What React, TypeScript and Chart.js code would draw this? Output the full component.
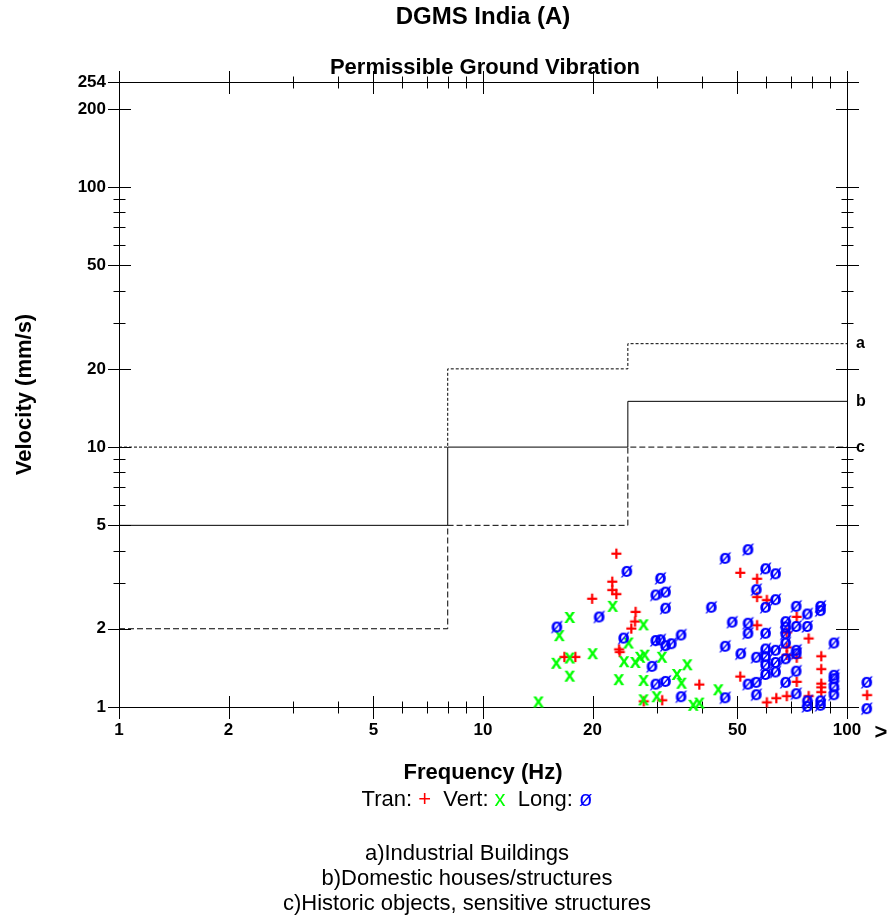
import { useEffect, useRef } from 'react';
import { Chart, registerables } from 'chart.js';
Chart.register(...registerables);

const FONT = "'Liberation Sans', Arial, Helvetica, sans-serif";

// Axis ticks
const xTicks = [1, 2, 5, 10, 20, 50, 100];
const xMinorTicks = [3, 4, 6, 7, 8, 9, 30, 40, 60, 70, 80, 90];
const yTicks = [1, 2, 5, 10, 20, 50, 100, 200, 254];
const yMinorTicks = [3, 4, 6, 7, 8, 9, 30, 40, 60, 70, 80, 90];

// DGMS limit curves (frequency breakpoints, velocity mm/s)
const limitFreq = [1, 8, 25, 100];
const industrialLimit = [10, 20, 25, 25];
const domesticLimit = [5, 10, 15, 15];
const historicLimit = [2, 5, 10, 10];

// Tran (+)
const tranFreq = [23.2, 22.6, 22.6, 23.2, 19.9, 26.2, 26.1, 25.5, 23.6, 23.7, 16.7, 17.9, 27.6, 31.0, 39.2, 50.8, 56.5, 56.5, 60.1, 56.5, 50.8, 60.1, 63.8, 68.2, 72.6, 68.2, 68.2, 68.2, 72.6, 78.3, 72.6, 78.3, 84.8, 84.8, 84.8, 84.8, 84.8, 113.3];
const tranVel = [3.92, 3.06, 2.84, 2.74, 2.63, 2.34, 2.15, 2.02, 1.68, 1.64, 1.57, 1.57, 1.06, 1.07, 1.23, 3.31, 3.14, 2.67, 2.60, 2.08, 1.32, 1.05, 1.09, 1.11, 2.24, 1.95, 1.71, 1.60, 1.56, 1.85, 1.26, 1.11, 1.58, 1.41, 1.24, 1.20, 1.15, 1.12];

// Vert (x)
const vertFreq = [14.2, 15.9, 16.2, 17.3, 17.3, 17.3, 20.0, 22.7, 23.6, 24.4, 25.1, 26.2, 27.0, 27.6, 27.8, 27.6, 27.6, 30.0, 31.0, 34.1, 35.1, 36.4, 37.8, 39.3, 44.3];
const vertVel = [1.05, 1.48, 1.89, 2.22, 1.55, 1.32, 1.61, 2.45, 1.28, 1.50, 1.77, 1.49, 1.56, 2.08, 1.59, 1.27, 1.07, 1.10, 1.56, 1.34, 1.24, 1.46, 1.02, 1.04, 1.17];

// Long (ø)
const longFreq = [16.0, 20.9, 24.9, 24.4, 30.8, 29.9, 31.8, 31.8, 29.9, 30.8, 31.8, 33.0, 35.1, 29.2, 29.9, 31.8, 35.1, 42.5, 46.4, 53.6, 48.5, 46.4, 51.2, 46.4, 53.6, 53.6, 53.6, 56.5, 56.5, 56.5, 56.5, 59.9, 63.8, 59.9, 63.8, 59.9, 59.9, 63.8, 59.9, 59.9, 59.9, 63.8, 63.8, 68.0, 68.0, 68.0, 68.0, 68.0, 68.0, 72.7, 72.7, 72.7, 72.7, 72.7, 72.7, 78.0, 78.0, 78.0, 78.0, 84.8, 84.8, 84.8, 84.8, 92.3, 92.3, 92.3, 92.3, 92.3, 113.6, 113.6];
const longVel = [2.04, 2.23, 3.34, 1.85, 3.14, 2.71, 2.78, 2.41, 1.81, 1.82, 1.73, 1.76, 1.90, 1.44, 1.23, 1.26, 1.10, 2.43, 3.75, 4.05, 2.13, 1.72, 1.61, 1.09, 2.11, 1.93, 1.23, 2.84, 1.56, 1.25, 1.12, 3.42, 3.27, 2.43, 2.60, 1.93, 1.68, 1.66, 1.57, 1.46, 1.34, 1.49, 1.37, 2.14, 2.04, 1.92, 1.77, 1.54, 1.25, 2.45, 2.05, 1.66, 1.61, 1.38, 1.13, 2.29, 2.05, 1.06, 1.01, 2.45, 2.36, 1.06, 1.02, 1.77, 1.33, 1.29, 1.20, 1.12, 1.25, 0.99];

const noteLines = ['a)Industrial Buildings', 'b)Domestic houses/structures', 'c)Historic objects, sensitive structures'];

const RED = '#ff0000';
const GREEN = '#00ff00';
const BLUE = '#0000ff';

function glyph(ch: string, color: string) {
  const size = 26;
  const c = document.createElement('canvas');
  c.width = size;
  c.height = size;
  const g = c.getContext('2d')!;
  g.font = `bold 20px ${FONT}`;
  g.fillStyle = color;
  g.textAlign = 'left';
  g.textBaseline = 'alphabetic';
  const m = g.measureText(ch);
  const w = m.actualBoundingBoxLeft + m.actualBoundingBoxRight;
  const h = m.actualBoundingBoxAscent + m.actualBoundingBoxDescent;
  const x = (size - w) / 2 + m.actualBoundingBoxLeft;
  const y = (size - h) / 2 + m.actualBoundingBoxAscent;
  g.fillText(ch, x, y);
  return c;
}

function pts(xs: number[], ys: number[]) {
  return xs.map((x, i) => ({ x, y: ys[i] }));
}

const decorPlugin = {
  id: 'decor',
  beforeDatasetsDraw(chart: any) {
    const { ctx, chartArea: a } = chart;
    const xs = chart.scales.x;
    const ys = chart.scales.y;
    const L = Math.round(a.left) + 0.5;
    const R = Math.round(a.right) + 0.5;
    const T = Math.round(a.top) + 0.5;
    const B = Math.round(a.bottom) + 0.5;
    ctx.save();
    ctx.strokeStyle = '#000';
    ctx.lineWidth = 1;
    ctx.beginPath();
    ctx.rect(L, T, R - L, B - T);
    const xt = (v: number, len: number) => {
      const x = Math.round(xs.getPixelForValue(v)) + 0.5;
      ctx.moveTo(x, B - len); ctx.lineTo(x, B + len);
      ctx.moveTo(x, T - len); ctx.lineTo(x, T + len);
    };
    const yt = (v: number, len: number) => {
      const y = Math.round(ys.getPixelForValue(v)) + 0.5;
      ctx.moveTo(L - len, y); ctx.lineTo(L + len, y);
      ctx.moveTo(R - len, y); ctx.lineTo(R + len, y);
    };
    xTicks.forEach((v) => xt(v, 11.5));
    xMinorTicks.forEach((v) => xt(v, 6));
    yTicks.forEach((v) => yt(v, 11.5));
    yMinorTicks.forEach((v) => yt(v, 6));
    ctx.stroke();
    ctx.restore();
  },
  afterDraw(chart: any) {
    const { ctx, chartArea: a } = chart;
    const ys = chart.scales.y;
    ctx.save();
    ctx.fillStyle = '#000';
    ctx.textBaseline = 'middle';
    ctx.textAlign = 'center';
    ctx.font = `bold 24px ${FONT}`;
    ctx.fillText('DGMS India (A)', 483, 17);
    ctx.font = `bold 22px ${FONT}`;
    ctx.fillText('Permissible Ground Vibration', 485, 68);

    // limit curve labels
    ctx.textAlign = 'left';
    ctx.font = `bold 16px ${FONT}`;
    const lastVals = [industrialLimit[3], domesticLimit[3], historicLimit[3]];
    ['a', 'b', 'c'].forEach((t, i) => {
      ctx.fillText(t, a.right + 9, ys.getPixelForValue(lastVals[i]));
    });
    ctx.textAlign = 'center';
    ctx.font = `bold 22px ${FONT}`;
    ctx.fillText('>', 881, 733);

    // legend line
    ctx.font = `22px ${FONT}`;
    const parts: [string, string][] = [['Tran: ', '#000'], ['+', RED], ['  Vert: ', '#000'], ['x', GREEN], ['  Long: ', '#000'], ['ø', BLUE]];
    const total = parts.reduce((s, p) => s + ctx.measureText(p[0]).width, 0);
    let x = 477 - total / 2;
    ctx.textAlign = 'left';
    parts.forEach(([t, c]) => {
      ctx.fillStyle = c;
      ctx.fillText(t, x, 800);
      x += ctx.measureText(t).width;
    });

    ctx.fillStyle = '#000';
    ctx.textAlign = 'center';
    noteLines.forEach((t, i) => ctx.fillText(t, 467, 854 + i * 25));
    ctx.restore();
  },
};

export default function App() {
  const ref = useRef<HTMLCanvasElement>(null);
  useEffect(() => {
    const plus = glyph('+', RED);
    const ex = glyph('x', GREEN);
    const oslash = glyph('ø', BLUE);
    const scatterBase = { showLine: false, pointRadius: 26, clip: false as any, borderWidth: 0 };
    const lineBase = { type: 'line' as const, pointRadius: 0, borderWidth: 1, borderColor: '#000', stepped: true, fill: false, showLine: true };
    const tickFont = { family: FONT, size: 17, weight: 'bold' as const };
    const chart = new Chart(ref.current!, {
      type: 'scatter',
      data: {
        datasets: [
          { ...scatterBase, label: 'Long', data: pts(longFreq, longVel), pointStyle: oslash },
          { ...scatterBase, label: 'Vert', data: pts(vertFreq, vertVel), pointStyle: ex },
          { ...scatterBase, label: 'Tran', data: pts(tranFreq, tranVel), pointStyle: plus },
          { ...lineBase, label: 'a', data: pts(limitFreq, industrialLimit), borderDash: [3, 2] },
          { ...lineBase, label: 'b', data: pts(limitFreq, domesticLimit) },
          { ...lineBase, label: 'c', data: pts(limitFreq, historicLimit), borderDash: [6, 3] },
        ] as any,
      },
      options: {
        responsive: false,
        animation: false,
        events: [],
        layout: { padding: { top: 82, right: 46, left: 0, bottom: 0 } },
        plugins: { legend: { display: false }, tooltip: { enabled: false }, title: { display: false } },
        scales: {
          x: {
            type: 'logarithmic',
            min: 1,
            max: 100,
            position: 'bottom',
            grid: { display: false, drawTicks: false },
            border: { display: false },
            afterBuildTicks: (s: any) => { s.ticks = xTicks.map((v) => ({ value: v })); },
            afterFit: (s: any) => { s.height = 214; },
            ticks: { autoSkip: false, maxRotation: 0, minRotation: 0, padding: 13, color: '#000', font: tickFont, callback: (v: any) => String(v) },
            title: { display: true, text: 'Frequency (Hz)', color: '#000', font: { family: FONT, size: 22, weight: 'bold' }, padding: { top: 0, bottom: 135 } },
          },
          y: {
            type: 'logarithmic',
            min: 1,
            max: 254,
            position: 'left',
            grid: { display: false, drawTicks: false },
            border: { display: false },
            afterBuildTicks: (s: any) => { s.ticks = yTicks.map((v) => ({ value: v })); },
            afterFit: (s: any) => { s.width = 119; },
            ticks: { autoSkip: false, padding: 13, color: '#000', font: tickFont, callback: (v: any) => String(v) },
            title: { display: true, text: 'Velocity (mm/s)', color: '#000', font: { family: FONT, size: 22, weight: 'bold' }, padding: { top: 12, bottom: 0 } },
          },
        },
      } as any,
      plugins: [decorPlugin],
    });
    return () => chart.destroy();
  }, []);
  return (
    <div style={{ position: 'absolute', left: 0, top: 0, width: 893, height: 921, background: '#fff' }}>
      <canvas ref={ref} width={893} height={921} style={{ display: 'block', width: 893, height: 921 }} />
    </div>
  );
}
